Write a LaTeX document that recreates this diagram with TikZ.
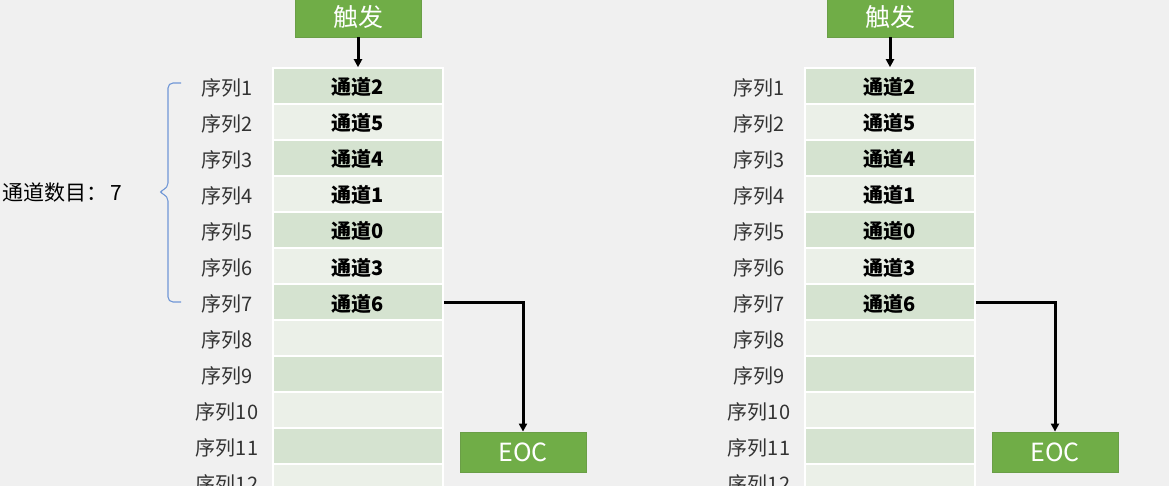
\documentclass[tikz,border=0pt]{standalone}
\usepackage{fontspec}
\setmainfont{Noto Sans CJK SC}
\usetikzlibrary{arrows.meta}
\definecolor{bgc}{HTML}{F0F0F0}
\definecolor{rowA}{HTML}{D5E3D0}
\definecolor{rowB}{HTML}{EBF0E8}
\definecolor{gfill}{HTML}{70AD47}
\definecolor{gdraw}{HTML}{6A9E47}
\definecolor{lblc}{HTML}{333333}
\definecolor{bracec}{HTML}{6F96D6}
\tikzset{
  cellbox/.style={draw=white, line width=1.6pt, minimum width=170pt, minimum height=36pt, inner sep=0pt, text height=19pt, text depth=1pt, font=\fontsize{20}{20}\selectfont\bfseries, text=black},
  cellA/.style={cellbox, fill=rowA},
  cellB/.style={cellbox, fill=rowB},
  greenbox/.style={draw=gdraw, line width=0.8pt, fill=gfill, text=white, minimum width=126pt, minimum height=40pt, inner sep=0pt, font=\fontsize{25}{25}\selectfont},
  seqlbl/.style={text=lblc, font=\fontsize{20}{20}\selectfont, inner sep=0pt},
  conn/.style={line width=3pt, black, -{Triangle[width=8pt,length=8pt]}},
}
\begin{document}
\begin{tikzpicture}[x=1pt,y=-1pt]
\useasboundingbox (0,0) rectangle (1169,486);
\clip (0,0) rectangle (1169,486);
\fill[bgc] (0,0) rectangle (1169,486);
\foreach \side/\ox in {L/0,R/532}{
  \foreach \i/\txt in {1/通道2,2/通道5,3/通道4,4/通道1,5/通道0,6/通道3,7/通道6,8/,9/,10/,11/,12/}{
    \pgfmathsetmacro{\yy}{86+36*(\i-1)}
    \pgfmathtruncatemacro{\rowpar}{mod(\i,2)}
    \ifnum\rowpar=1
      \node[cellA] (\side-c\i) at (358+\ox,\yy) {\txt};
    \else
      \node[cellB] (\side-c\i) at (358+\ox,\yy) {\txt};
    \fi
    \node[seqlbl] (\side-s\i) at (227+\ox,\yy+2) {序列\i};
  }
  \node[greenbox] (\side-trig) at (358+\ox,17) {触发};
  \node[greenbox] (\side-eoc) at (523+\ox,452) {EOC};
  \draw[conn] (\side-trig.south) -- (\side-c1.north);
  \draw[conn] (\side-c7.east) -| (\side-eoc.north);
}
\draw[bracec, line width=1.1pt, rounded corners=5pt]
  (181,83) -- (168,83) -- (168,188) -- (158,192) -- (168,196) -- (168,302) -- (181,302);
\node[anchor=west, text=black, font=\fontsize{21}{21}\selectfont, inner sep=0pt] (cnt) at (2,193) {通道数目：\,7};
\end{tikzpicture}
\end{document}
